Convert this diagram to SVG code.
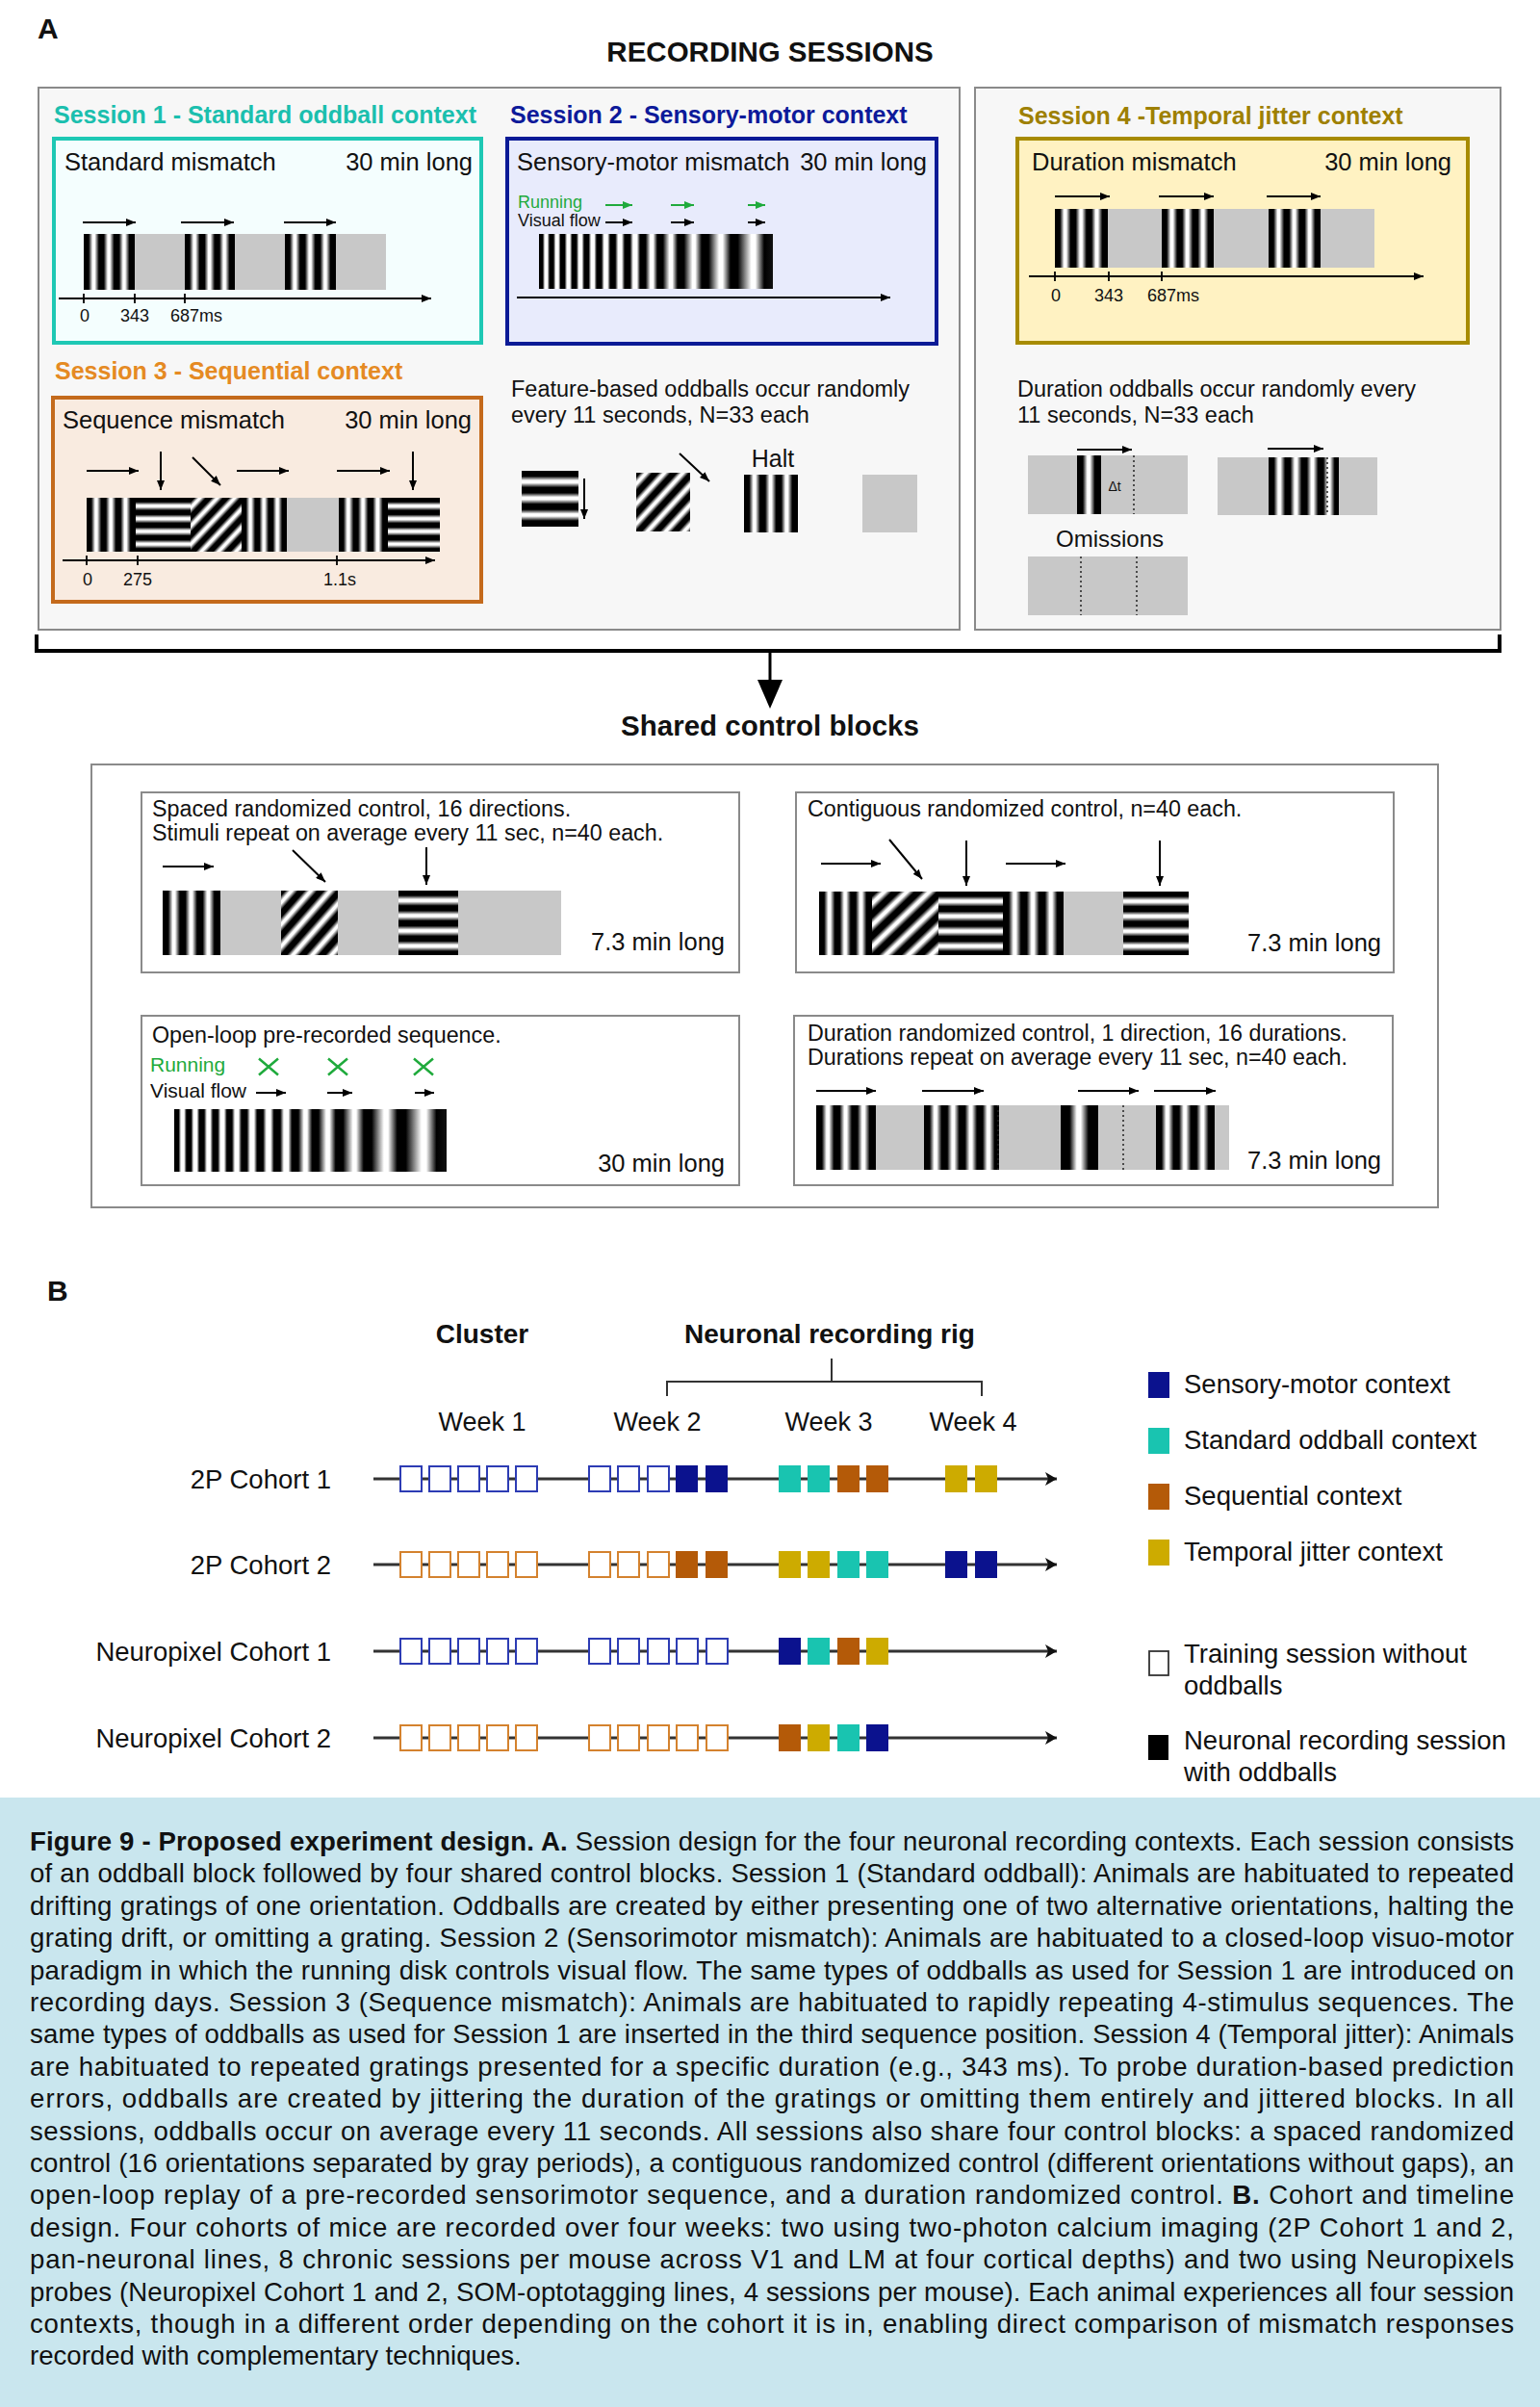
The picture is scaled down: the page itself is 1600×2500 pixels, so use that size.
<svg xmlns="http://www.w3.org/2000/svg" width="1600" height="2500" viewBox="0 0 1600 2500">
<style>
text{font-family:"Liberation Sans",Arial,Helvetica,sans-serif;fill:#111}
.b{font-weight:bold}
.ar{stroke:#000;stroke-width:2;fill:none;marker-end:url(#ah)}
.arg{stroke:#1faa3c;stroke-width:2;fill:none;marker-end:url(#ahg)}
.ax{stroke:#000;stroke-width:1.8;fill:none;marker-end:url(#ah)}
.tk{stroke:#000;stroke-width:1.8}
.gray{fill:#c8c8c8}
.dot{stroke:#222;stroke-width:1.5;stroke-dasharray:2 3}
.cb{fill:#fff;stroke:#8a8a8a;stroke-width:2}
.pan{fill:#f7f7f7;stroke:#8a8a8a;stroke-width:2}
.obl{fill:#fff;stroke:#2d3cb4;stroke-width:2}
.oor{fill:#fff;stroke:#d4822e;stroke-width:2}
.nv{fill:#0b128e}.tl{fill:#19c4b0}.br{fill:#b45a08}.gd{fill:#cdab00}
.tline{stroke:#333;stroke-width:3;fill:none;marker-end:url(#aht)}
.xg{stroke:#1faa3c;stroke-width:2.5}
</style>
<defs>
<marker id="ah" viewBox="0 0 10 8" refX="10" refY="4" markerWidth="10" markerHeight="8" markerUnits="userSpaceOnUse" orient="auto"><path d="M0,0 L10,4 L0,8 z" fill="#000"/></marker>
<marker id="ahg" viewBox="0 0 10 8" refX="10" refY="4" markerWidth="10" markerHeight="8" markerUnits="userSpaceOnUse" orient="auto"><path d="M0,0 L10,4 L0,8 z" fill="#1faa3c"/></marker>
<marker id="aht" viewBox="0 0 12 14" refX="12" refY="7" markerWidth="12" markerHeight="14" markerUnits="userSpaceOnUse" orient="auto"><path d="M0,0 L12,7 L0,14 L3,7 z" fill="#111"/></marker>
<linearGradient id="vg4" x1="0.0299" y1="0" x2="0.3284" y2="0" spreadMethod="repeat"><stop offset="0" stop-color="#000"/><stop offset=".22" stop-color="#000"/><stop offset=".48" stop-color="#fff"/><stop offset=".62" stop-color="#fff"/><stop offset=".9" stop-color="#000"/><stop offset="1" stop-color="#000"/></linearGradient>
<linearGradient id="vg5" href="#vg4" x1="0.0235" x2="0.2588"/>
<linearGradient id="vg2" href="#vg4" x1="0.0741" x2="0.8148"/>
<linearGradient id="hg4" href="#vg4" x1="0" y1="0.0299" x2="0" y2="0.3284"/>
<linearGradient id="hg5" href="#vg4" x1="0" y1="0.0235" x2="0" y2="0.2588"/>
<linearGradient id="dg" href="#vg4" x1="0" y1="0" x2="0.17" y2="0.17"/>
<linearGradient id="chirp" x1="0" y1="0" x2="1" y2="0">
<stop offset="0" stop-color="#000"/><stop offset=".0159" stop-color="#000"/><stop offset=".0249" stop-color="#fff"/><stop offset=".0362" stop-color="#fff"/>
<stop offset=".0453" stop-color="#000"/><stop offset=".0619" stop-color="#000"/><stop offset=".0713" stop-color="#fff"/><stop offset=".0831" stop-color="#fff"/>
<stop offset=".0926" stop-color="#000"/><stop offset=".1099" stop-color="#000"/><stop offset=".1198" stop-color="#fff"/><stop offset=".1321" stop-color="#fff"/>
<stop offset=".1420" stop-color="#000"/><stop offset=".1600" stop-color="#000"/><stop offset=".1703" stop-color="#fff"/><stop offset=".1831" stop-color="#fff"/>
<stop offset=".1934" stop-color="#000"/><stop offset=".2121" stop-color="#000"/><stop offset=".2228" stop-color="#fff"/><stop offset=".2362" stop-color="#fff"/>
<stop offset=".2469" stop-color="#000"/><stop offset=".2671" stop-color="#000"/><stop offset=".2786" stop-color="#fff"/><stop offset=".2930" stop-color="#fff"/>
<stop offset=".3045" stop-color="#000"/><stop offset=".3261" stop-color="#000"/><stop offset=".3385" stop-color="#fff"/><stop offset=".3539" stop-color="#fff"/>
<stop offset=".3663" stop-color="#000"/><stop offset=".3893" stop-color="#000"/><stop offset=".4025" stop-color="#fff"/><stop offset=".4189" stop-color="#fff"/>
<stop offset=".4321" stop-color="#000"/><stop offset=".4560" stop-color="#000"/><stop offset=".4760" stop-color="#fff"/><stop offset=".4880" stop-color="#fff"/>
<stop offset=".5062" stop-color="#000"/><stop offset=".5300" stop-color="#000"/><stop offset=".5580" stop-color="#fff"/><stop offset=".5700" stop-color="#fff"/>
<stop offset=".5926" stop-color="#000"/><stop offset=".6200" stop-color="#000"/><stop offset=".6560" stop-color="#fff"/><stop offset=".6680" stop-color="#fff"/>
<stop offset=".6955" stop-color="#000"/><stop offset=".7250" stop-color="#000"/><stop offset=".7700" stop-color="#fff"/><stop offset=".7850" stop-color="#fff"/>
<stop offset=".8189" stop-color="#000"/><stop offset=".8500" stop-color="#000"/><stop offset=".9080" stop-color="#fff"/><stop offset=".9250" stop-color="#fff"/>
<stop offset=".9630" stop-color="#000"/><stop offset="1" stop-color="#111"/>
</linearGradient>
</defs>
<rect width="1600" height="2500" fill="#fff"/>

<text x="39" y="40" font-size="30" class="b">A</text>
<text x="800" y="64" font-size="29.5" class="b" text-anchor="middle">RECORDING SESSIONS</text>

<g id="panel-sessions-123">
<rect class="pan" x="40" y="91" width="957" height="563"/>
</g>
<g id="panel-session-4">
<rect class="pan" x="1013" y="91" width="546" height="563"/>
</g>

<g id="session1">
<text x="56" y="128" font-size="25" class="b" style="fill:#1bbfae">Session 1 - Standard oddball context</text>
<rect x="56" y="144" width="444" height="212" fill="#f4fefe" stroke="#1ec8b4" stroke-width="4"/>
<text x="67" y="177" font-size="25.5">Standard mismatch</text>
<text x="491" y="177" font-size="25.5" text-anchor="end">30 min long</text>
<line class="ar" x1="86" y1="231" x2="141" y2="231"/>
<line class="ar" x1="188" y1="231" x2="243" y2="231"/>
<line class="ar" x1="295" y1="231" x2="349" y2="231"/>
<rect class="gray" x="87" y="243" width="314" height="58"/>
<rect x="87" y="243" width="53" height="58" fill="url(#vg4)"/>
<rect x="192" y="243" width="52" height="58" fill="url(#vg4)"/>
<rect x="296" y="243" width="53" height="58" fill="url(#vg4)"/>
<line class="ax" x1="61" y1="310" x2="448" y2="310"/>
<path class="tk" d="M87,305V315M140,305V315M192,305V315"/>
<text x="88" y="334" font-size="18" text-anchor="middle">0</text>
<text x="140" y="334" font-size="18" text-anchor="middle">343</text>
<text x="177" y="334" font-size="18">687ms</text>
</g>

<g id="session2">
<text x="530" y="128" font-size="25" class="b" style="fill:#0d1a9a">Session 2 - Sensory-motor context</text>
<rect x="527" y="144" width="446" height="213" fill="#e8ebfc" stroke="#0b1a96" stroke-width="4"/>
<text x="537" y="177" font-size="25.5">Sensory-motor mismatch</text>
<text x="963" y="177" font-size="25.5" text-anchor="end">30 min long</text>
<text x="538" y="216" font-size="18" style="fill:#1faa3c">Running</text>
<text x="538" y="235" font-size="18">Visual flow</text>
<line class="arg" x1="629" y1="213" x2="657" y2="213"/>
<line class="arg" x1="697" y1="213" x2="721" y2="213"/>
<line class="arg" x1="777" y1="213" x2="795" y2="213"/>
<line class="ar" x1="629" y1="231" x2="657" y2="231"/>
<line class="ar" x1="697" y1="231" x2="721" y2="231"/>
<line class="ar" x1="777" y1="231" x2="795" y2="231"/>
<rect x="560" y="243" width="243" height="57" fill="url(#chirp)"/>
<line class="ax" x1="537" y1="309" x2="925" y2="309"/>
</g>

<g id="session3">
<text x="57" y="394" font-size="25" class="b" style="fill:#e58a23">Session 3 - Sequential context</text>
<rect x="55" y="413" width="445" height="212" fill="#f9ebe0" stroke="#c46a1c" stroke-width="4"/>
<text x="65" y="445" font-size="25.5">Sequence mismatch</text>
<text x="490" y="445" font-size="25.5" text-anchor="end">30 min long</text>
<line class="ar" x1="90" y1="489" x2="144" y2="489"/>
<line class="ar" x1="167" y1="469" x2="167" y2="509"/>
<line class="ar" x1="200" y1="475" x2="229" y2="504"/>
<line class="ar" x1="246" y1="489" x2="300" y2="489"/>
<line class="ar" x1="350" y1="489" x2="405" y2="489"/>
<line class="ar" x1="429" y1="469" x2="429" y2="509"/>
<rect x="90" y="517" width="51" height="56" fill="url(#vg4)"/>
<rect x="141" y="517" width="57" height="56" fill="url(#hg5)"/>
<rect x="198" y="517" width="53" height="56" fill="url(#dg)"/>
<rect x="251" y="517" width="47" height="56" fill="url(#vg4)"/>
<rect class="gray" x="298" y="517" width="54" height="56"/>
<rect x="352" y="517" width="51" height="56" fill="url(#vg4)"/>
<rect x="403" y="517" width="54" height="56" fill="url(#hg5)"/>
<line class="ax" x1="65" y1="582" x2="452" y2="582"/>
<path class="tk" d="M90,577V587M143,577V587M350,577V587"/>
<text x="91" y="608" font-size="18" text-anchor="middle">0</text>
<text x="143" y="608" font-size="18" text-anchor="middle">275</text>
<text x="353" y="608" font-size="18" text-anchor="middle">1.1s</text>
</g>

<g id="feature-oddballs">
<text x="531" y="412" font-size="23.5">Feature-based oddballs occur randomly</text>
<text x="531" y="439" font-size="23.5">every 11 seconds, N=33 each</text>
<rect x="542" y="489" width="59" height="58" fill="url(#hg4)"/>
<line class="ar" x1="607" y1="497" x2="607" y2="539"/>
<rect x="661" y="491" width="56" height="61" fill="url(#dg)"/>
<line class="ar" x1="706" y1="471" x2="737" y2="500"/>
<text x="803" y="485" font-size="25" text-anchor="middle">Halt</text>
<rect x="773" y="493" width="56" height="60" fill="url(#vg4)"/>
<rect class="gray" x="896" y="493" width="57" height="60"/>
</g>

<g id="session4">
<text x="1058" y="129" font-size="25" class="b" style="fill:#9e8000">Session 4 -Temporal jitter context</text>
<rect x="1057" y="144" width="468" height="212" fill="#fff2c2" stroke="#a78b00" stroke-width="4"/>
<text x="1072" y="177" font-size="25.5">Duration mismatch</text>
<text x="1508" y="177" font-size="25.5" text-anchor="end">30 min long</text>
<line class="ar" x1="1096" y1="204" x2="1153" y2="204"/>
<line class="ar" x1="1204" y1="204" x2="1261" y2="204"/>
<line class="ar" x1="1316" y1="204" x2="1372" y2="204"/>
<rect class="gray" x="1096" y="217" width="332" height="61"/>
<rect x="1096" y="217" width="55" height="61" fill="url(#vg4)"/>
<rect x="1207" y="217" width="54" height="61" fill="url(#vg4)"/>
<rect x="1318" y="217" width="54" height="61" fill="url(#vg4)"/>
<line class="ax" x1="1069" y1="287" x2="1479" y2="287"/>
<path class="tk" d="M1096,282V292M1152,282V292M1207,282V292"/>
<text x="1097" y="313" font-size="18" text-anchor="middle">0</text>
<text x="1152" y="313" font-size="18" text-anchor="middle">343</text>
<text x="1192" y="313" font-size="18">687ms</text>
<text x="1057" y="412" font-size="23.5">Duration oddballs occur randomly every</text>
<text x="1057" y="439" font-size="23.5">11 seconds, N=33 each</text>
<rect class="gray" x="1068" y="473" width="166" height="61"/>
<rect x="1119" y="473" width="25" height="61" fill="url(#vg2)"/>
<line class="ar" x1="1119" y1="467" x2="1176" y2="467"/>
<line class="dot" x1="1178" y1="473" x2="1178" y2="534"/>
<text x="1158" y="510" font-size="14" text-anchor="middle">Δt</text>
<rect class="gray" x="1265" y="475" width="166" height="60"/>
<rect x="1318" y="475" width="73" height="60" fill="url(#vg5)"/>
<line class="dot" x1="1379" y1="475" x2="1379" y2="535"/>
<line class="ar" x1="1317" y1="466" x2="1375" y2="466"/>
<text x="1153" y="568" font-size="24" text-anchor="middle">Omissions</text>
<rect class="gray" x="1068" y="578" width="166" height="61"/>
<line class="dot" x1="1123" y1="578" x2="1123" y2="639"/>
<line class="dot" x1="1181" y1="578" x2="1181" y2="639"/>
</g>

<g id="connectors">
<path d="M38,659V676H1558V659" fill="none" stroke="#000" stroke-width="4"/>
<line x1="800" y1="676" x2="800" y2="710" stroke="#000" stroke-width="3"/>
<polygon points="787,706 813,706 800,736" fill="#000"/>
</g>

<text x="800" y="764" font-size="29.5" class="b" text-anchor="middle">Shared control blocks</text>

<g id="panel-controls">
<rect class="cb" x="95" y="794" width="1399" height="460"/>
</g>

<g id="control-spaced">
<rect class="cb" x="147" y="823" width="621" height="187"/>
<text x="158" y="848" font-size="23.3">Spaced randomized control, 16 directions.</text>
<text x="158" y="873" font-size="23.3">Stimuli repeat on average every 11 sec, n=40 each.</text>
<line class="ar" x1="169" y1="900" x2="222" y2="900"/>
<line class="ar" x1="304" y1="883" x2="338" y2="916"/>
<line class="ar" x1="443" y1="880" x2="443" y2="919"/>
<rect class="gray" x="169" y="925" width="414" height="67"/>
<rect x="169" y="925" width="60" height="67" fill="url(#vg4)"/>
<rect x="292" y="925" width="59" height="67" fill="url(#dg)"/>
<rect x="414" y="925" width="62" height="67" fill="url(#hg5)"/>
<text x="753" y="987" font-size="25.5" text-anchor="end">7.3 min long</text>
</g>

<g id="control-contiguous">
<rect class="cb" x="827" y="823" width="621" height="187"/>
<text x="839" y="848" font-size="23.3">Contiguous randomized control, n=40 each.</text>
<line class="ar" x1="853" y1="897" x2="915" y2="897"/>
<line class="ar" x1="924" y1="872" x2="958" y2="913"/>
<line class="ar" x1="1004" y1="873" x2="1004" y2="920"/>
<line class="ar" x1="1045" y1="897" x2="1107" y2="897"/>
<line class="ar" x1="1205" y1="873" x2="1205" y2="920"/>
<rect x="851" y="926" width="55" height="66" fill="url(#vg4)"/>
<rect x="906" y="926" width="69" height="66" fill="url(#dg)"/>
<rect x="975" y="926" width="67" height="66" fill="url(#hg5)"/>
<rect x="1042" y="926" width="63" height="66" fill="url(#vg4)"/>
<rect class="gray" x="1105" y="926" width="62" height="66"/>
<rect x="1167" y="926" width="68" height="66" fill="url(#hg5)"/>
<text x="1435" y="988" font-size="25.5" text-anchor="end">7.3 min long</text>
</g>

<g id="control-openloop">
<rect class="cb" x="147" y="1055" width="621" height="176"/>
<text x="158" y="1083" font-size="23.3">Open-loop pre-recorded sequence.</text>
<text x="156" y="1113" font-size="21" style="fill:#1faa3c">Running</text>
<path class="xg" d="M269,1099.5L289,1116.5M289,1099.5L269,1116.5M341,1099.5L361,1116.5M361,1099.5L341,1116.5M430,1099.5L450,1116.5M450,1099.5L430,1116.5"/>
<text x="156" y="1140" font-size="21">Visual flow</text>
<line class="ar" x1="266" y1="1135" x2="297" y2="1135"/>
<line class="ar" x1="340" y1="1135" x2="366" y2="1135"/>
<line class="ar" x1="431" y1="1135" x2="451" y2="1135"/>
<rect x="181" y="1152" width="283" height="65" fill="url(#chirp)"/>
<text x="753" y="1217" font-size="25.5" text-anchor="end">30 min long</text>
</g>

<g id="control-duration">
<rect class="cb" x="825" y="1055" width="622" height="176"/>
<text x="839" y="1081" font-size="23.3">Duration randomized control, 1 direction, 16 durations.</text>
<text x="839" y="1106" font-size="23.3">Durations repeat on average every 11 sec, n=40 each.</text>
<line class="ar" x1="848" y1="1133" x2="910" y2="1133"/>
<line class="ar" x1="958" y1="1133" x2="1022" y2="1133"/>
<line class="ar" x1="1120" y1="1133" x2="1183" y2="1133"/>
<line class="ar" x1="1199" y1="1133" x2="1263" y2="1133"/>
<rect class="gray" x="848" y="1148" width="429" height="67"/>
<rect x="848" y="1148" width="62" height="67" fill="url(#vg4)"/>
<rect x="960" y="1148" width="78" height="67" fill="url(#vg5)"/>
<line class="dot" x1="1037" y1="1148" x2="1037" y2="1215"/>
<rect x="1102" y="1148" width="39" height="67" fill="url(#vg2)"/>
<line class="dot" x1="1167" y1="1148" x2="1167" y2="1215"/>
<rect x="1201" y="1148" width="61" height="67" fill="url(#vg4)"/>
<text x="1435" y="1214" font-size="25.5" text-anchor="end">7.3 min long</text>
</g>

<text x="49" y="1351" font-size="30" class="b">B</text>

<g id="timeline-header">
<text x="501" y="1395" font-size="28" class="b" text-anchor="middle">Cluster</text>
<text x="862" y="1395" font-size="28" class="b" text-anchor="middle">Neuronal recording rig</text>
<path d="M693,1450V1435H1020V1450M864,1411V1435" fill="none" stroke="#333" stroke-width="2"/>
<text x="501" y="1486" font-size="27" text-anchor="middle">Week 1</text>
<text x="683" y="1486" font-size="27" text-anchor="middle">Week 2</text>
<text x="861" y="1486" font-size="27" text-anchor="middle">Week 3</text>
<text x="1011" y="1486" font-size="27" text-anchor="middle">Week 4</text>
</g>

<g id="cohort-2p-1">
<text x="344" y="1546" font-size="27.5" text-anchor="end">2P Cohort 1</text>
<line class="tline" x1="388" y1="1536" x2="1098" y2="1536"/>
<rect class="obl" x="416" y="1523" width="22" height="26"/><rect class="obl" x="446" y="1523" width="22" height="26"/><rect class="obl" x="476" y="1523" width="22" height="26"/><rect class="obl" x="506" y="1523" width="22" height="26"/><rect class="obl" x="536" y="1523" width="22" height="26"/>
<rect class="obl" x="612" y="1523" width="22" height="26"/><rect class="obl" x="642" y="1523" width="22" height="26"/><rect class="obl" x="673" y="1523" width="22" height="26"/>
<rect class="nv" x="702" y="1522" width="23" height="28"/><rect class="nv" x="733" y="1522" width="23" height="28"/>
<rect class="tl" x="809" y="1522" width="23" height="28"/><rect class="tl" x="839" y="1522" width="23" height="28"/><rect class="br" x="870" y="1522" width="23" height="28"/><rect class="br" x="900" y="1522" width="23" height="28"/>
<rect class="gd" x="982" y="1522" width="23" height="28"/><rect class="gd" x="1013" y="1522" width="23" height="28"/>
</g>

<g id="cohort-2p-2">
<text x="344" y="1635" font-size="27.5" text-anchor="end">2P Cohort 2</text>
<line class="tline" x1="388" y1="1625" x2="1098" y2="1625"/>
<rect class="oor" x="416" y="1612" width="22" height="26"/><rect class="oor" x="446" y="1612" width="22" height="26"/><rect class="oor" x="476" y="1612" width="22" height="26"/><rect class="oor" x="506" y="1612" width="22" height="26"/><rect class="oor" x="536" y="1612" width="22" height="26"/>
<rect class="oor" x="612" y="1612" width="22" height="26"/><rect class="oor" x="642" y="1612" width="22" height="26"/><rect class="oor" x="673" y="1612" width="22" height="26"/>
<rect class="br" x="702" y="1611" width="23" height="28"/><rect class="br" x="733" y="1611" width="23" height="28"/>
<rect class="gd" x="809" y="1611" width="23" height="28"/><rect class="gd" x="839" y="1611" width="23" height="28"/><rect class="tl" x="870" y="1611" width="23" height="28"/><rect class="tl" x="900" y="1611" width="23" height="28"/>
<rect class="nv" x="982" y="1611" width="23" height="28"/><rect class="nv" x="1013" y="1611" width="23" height="28"/>
</g>

<g id="cohort-np-1">
<text x="344" y="1725" font-size="27.5" text-anchor="end">Neuropixel Cohort 1</text>
<line class="tline" x1="388" y1="1715" x2="1098" y2="1715"/>
<rect class="obl" x="416" y="1702" width="22" height="26"/><rect class="obl" x="446" y="1702" width="22" height="26"/><rect class="obl" x="476" y="1702" width="22" height="26"/><rect class="obl" x="506" y="1702" width="22" height="26"/><rect class="obl" x="536" y="1702" width="22" height="26"/>
<rect class="obl" x="612" y="1702" width="22" height="26"/><rect class="obl" x="642" y="1702" width="22" height="26"/><rect class="obl" x="673" y="1702" width="22" height="26"/><rect class="obl" x="703" y="1702" width="22" height="26"/><rect class="obl" x="734" y="1702" width="22" height="26"/>
<rect class="nv" x="809" y="1701" width="23" height="28"/><rect class="tl" x="839" y="1701" width="23" height="28"/><rect class="br" x="870" y="1701" width="23" height="28"/><rect class="gd" x="900" y="1701" width="23" height="28"/>
</g>

<g id="cohort-np-2">
<text x="344" y="1815" font-size="27.5" text-anchor="end">Neuropixel Cohort 2</text>
<line class="tline" x1="388" y1="1805" x2="1098" y2="1805"/>
<rect class="oor" x="416" y="1792" width="22" height="26"/><rect class="oor" x="446" y="1792" width="22" height="26"/><rect class="oor" x="476" y="1792" width="22" height="26"/><rect class="oor" x="506" y="1792" width="22" height="26"/><rect class="oor" x="536" y="1792" width="22" height="26"/>
<rect class="oor" x="612" y="1792" width="22" height="26"/><rect class="oor" x="642" y="1792" width="22" height="26"/><rect class="oor" x="673" y="1792" width="22" height="26"/><rect class="oor" x="703" y="1792" width="22" height="26"/><rect class="oor" x="734" y="1792" width="22" height="26"/>
<rect class="br" x="809" y="1791" width="23" height="28"/><rect class="gd" x="839" y="1791" width="23" height="28"/><rect class="tl" x="870" y="1791" width="23" height="28"/><rect class="nv" x="900" y="1791" width="23" height="28"/>
</g>

<g id="legend">
<rect class="nv" x="1193" y="1425" width="22" height="27"/>
<text x="1230" y="1447" font-size="27.5">Sensory-motor context</text>
<rect class="tl" x="1193" y="1483" width="22" height="27"/>
<text x="1230" y="1505" font-size="27.5">Standard oddball context</text>
<rect class="br" x="1193" y="1541" width="22" height="27"/>
<text x="1230" y="1563" font-size="27.5">Sequential context</text>
<rect class="gd" x="1193" y="1599" width="22" height="27"/>
<text x="1230" y="1621" font-size="27.5">Temporal jitter context</text>
<rect x="1194" y="1715" width="20" height="25" fill="#fff" stroke="#333" stroke-width="1.8"/>
<text x="1230" y="1727" font-size="27.5">Training session without</text>
<text x="1230" y="1760" font-size="27.5">oddballs</text>
<rect x="1193" y="1802" width="21" height="26" fill="#000"/>
<text x="1230" y="1817" font-size="27.5">Neuronal recording session</text>
<text x="1230" y="1850" font-size="27.5">with oddballs</text>
</g>

<g id="caption">
<rect x="0" y="1867" width="1600" height="633" fill="#c9e6ee"/>
<g font-size="27.6">
<text x="31" y="1922" textLength="1542" lengthAdjust="spacing"><tspan class="b">Figure 9 - Proposed experiment design. A.</tspan> Session design for the four neuronal recording contexts. Each session consists</text>
<text x="31" y="1955.4" textLength="1542" lengthAdjust="spacing">of an oddball block followed by four shared control blocks. Session 1 (Standard oddball): Animals are habituated to repeated</text>
<text x="31" y="1988.8" textLength="1542" lengthAdjust="spacing">drifting gratings of one orientation. Oddballs are created by either presenting one of two alternative orientations, halting the</text>
<text x="31" y="2022.2" textLength="1542" lengthAdjust="spacing">grating drift, or omitting a grating. Session 2 (Sensorimotor mismatch): Animals are habituated to a closed-loop visuo-motor</text>
<text x="31" y="2055.6" textLength="1542" lengthAdjust="spacing">paradigm in which the running disk controls visual flow. The same types of oddballs as used for Session 1 are introduced on</text>
<text x="31" y="2089" textLength="1542" lengthAdjust="spacing">recording days. Session 3 (Sequence mismatch): Animals are habituated to rapidly repeating 4-stimulus sequences. The</text>
<text x="31" y="2122.4" textLength="1542" lengthAdjust="spacing">same types of oddballs as used for Session 1 are inserted in the third sequence position. Session 4 (Temporal jitter): Animals</text>
<text x="31" y="2155.8" textLength="1542" lengthAdjust="spacing">are habituated to repeated gratings presented for a specific duration (e.g., 343 ms). To probe duration-based prediction</text>
<text x="31" y="2189.2" textLength="1542" lengthAdjust="spacing">errors, oddballs are created by jittering the duration of the gratings or omitting them entirely and jittered blocks. In all</text>
<text x="31" y="2222.6" textLength="1542" lengthAdjust="spacing">sessions, oddballs occur on average every 11 seconds. All sessions also share four control blocks: a spaced randomized</text>
<text x="31" y="2256" textLength="1542" lengthAdjust="spacing">control (16 orientations separated by gray periods), a contiguous randomized control (different orientations without gaps), an</text>
<text x="31" y="2289.4" textLength="1542" lengthAdjust="spacing">open-loop replay of a pre-recorded sensorimotor sequence, and a duration randomized control. <tspan class="b">B.</tspan> Cohort and timeline</text>
<text x="31" y="2322.8" textLength="1542" lengthAdjust="spacing">design. Four cohorts of mice are recorded over four weeks: two using two-photon calcium imaging (2P Cohort 1 and 2,</text>
<text x="31" y="2356.2" textLength="1542" lengthAdjust="spacing">pan-neuronal lines, 8 chronic sessions per mouse across V1 and LM at four cortical depths) and two using Neuropixels</text>
<text x="31" y="2389.6" textLength="1542" lengthAdjust="spacing">probes (Neuropixel Cohort 1 and 2, SOM-optotagging lines, 4 sessions per mouse). Each animal experiences all four session</text>
<text x="31" y="2423" textLength="1542" lengthAdjust="spacing">contexts, though in a different order depending on the cohort it is in, enabling direct comparison of mismatch responses</text>
<text x="31" y="2456.4">recorded with complementary techniques.</text>
</g>
</g>
</svg>
